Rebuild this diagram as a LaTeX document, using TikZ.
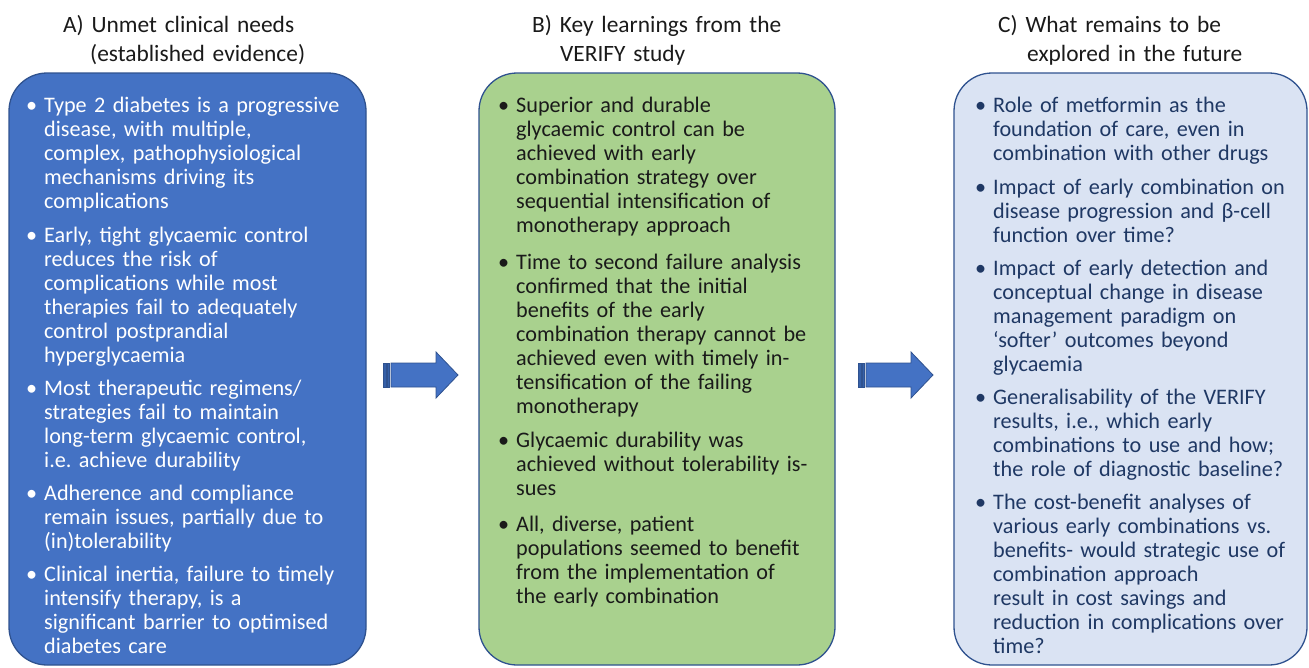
\documentclass[tikz,border=0pt]{standalone}
\usepackage{fontspec}
\setmainfont{Carlito}
\frenchspacing
\definecolor{boxA}{HTML}{4472C4}
\definecolor{boxB}{HTML}{A9D18E}
\definecolor{boxC}{HTML}{DAE3F3}
\definecolor{edge}{HTML}{2F528F}
\definecolor{navy}{HTML}{1F3864}
\definecolor{txt}{HTML}{1A1A1A}
\definecolor{stripe}{HTML}{3560A8}
\tikzset{
  panel/.style={draw=edge, line width=1.3pt, rounded corners=38pt},
  item/.style={anchor=base west, inner sep=0pt, text width=340pt, align=left,
    font=\fontsize{22.2}{24}\selectfont},
  ttl/.style={anchor=base west, inner sep=0pt, text width=320pt, align=left,
    font=\fontsize{23.4}{29}\selectfont, text=txt},
  barrow/.style={fill=boxA, draw=edge, line width=0.8pt},
  bstripe/.style={fill=stripe, draw=edge, line width=0.6pt}
}
\newcommand{\bul}{\llap{\textbullet\hspace{7pt}}}
\begin{document}
\begin{tikzpicture}[x=1pt, y=-1pt]
\useasboundingbox (0,0) rectangle (1309,667);

% titles
\node[ttl] (tA) at (63,32) {A) Unmet clinical needs\\\hspace*{27pt}(established evidence)};
\node[ttl] (tB) at (532,32) {B) Key learnings from the\\\hspace*{28pt}VERIFY study};
\node[ttl] (tC) at (998,32) {C) What remains to be\\\hspace*{29pt}explored in the future};

% panels
\draw[panel, fill=boxA] (9,73) rectangle (366,665);
\coordinate (pA) at (366,375);
\draw[panel, fill=boxB] (479,73) rectangle (835,665);
\coordinate (pB) at (479,375);
\coordinate (pB2) at (835,375);
\draw[panel, fill=boxC] (954,73) rectangle (1307,665);
\coordinate (pC) at (954,375);

% panel A
\begin{scope}[every node/.append style={text=white}]
\node[item] (a1) at (44,112) {\bul Type 2 diabetes is a progressive\\disease, with multiple,\\complex, pathophysiological\\mechanisms driving its\\complications};
\node[item] (a2) at (44,242) {\bul Early, tight glycaemic control\\reduces the risk of\\complications while most\\therapies fail to adequately\\control postprandial\\hyperglycaemia};
\node[item] (a3) at (44,395) {\bul Most therapeutic regimens/\\strategies fail to maintain\\long-term glycaemic control,\\i.e. achieve durability};
\node[item] (a4) at (44,500) {\bul Adherence and compliance\\remain issues, partially due to\\(in)tolerability};
\node[item] (a5) at (44,581) {\bul Clinical inertia, failure to timely\\intensify therapy, is a\\significant barrier to optimised\\diabetes care};
\end{scope}

% panel B
\begin{scope}[every node/.append style={text=txt}]
\node[item] (b1) at (516,112) {\bul Superior and durable\\glycaemic control can be\\achieved with early\\combination strategy over\\sequential intensification of\\monotherapy approach};
\node[item] (b2) at (516,269) {\bul Time to second failure analysis\\confirmed that the initial\\benefits of the early\\combination therapy cannot be\\achieved even with timely in-\\tensification of the failing\\monotherapy};
\node[item] (b3) at (516,447) {\bul Glycaemic durability was\\achieved without tolerability is-\\sues};
\node[item] (b4) at (516,531) {\bul All, diverse, patient\\populations seemed to benefit\\from the implementation of\\the early combination};
\end{scope}

% panel C
\begin{scope}[every node/.append style={text=navy}]
\node[item] (c1) at (993,112) {\bul Role of metformin as the\\foundation of care, even in\\combination with other drugs};
\node[item] (c2) at (993,194) {\bul Impact of early combination on\\disease progression and β-cell\\function over time?};
\node[item] (c3) at (993,275) {\bul Impact of early detection and\\conceptual change in disease\\management paradigm on\\‘softer’ outcomes beyond\\glycaemia};
\node[item] (c4) at (993,404) {\bul Generalisability of the VERIFY\\results, i.e., which early\\combinations to use and how;\\the role of diagnostic baseline?};
\node[item] (c5) at (993,509) {\bul The cost-benefit analyses of\\various early combinations vs.\\benefits- would strategic use of\\combination approach\\result in cost savings and\\reduction in complications over\\time?};
\end{scope}

% block arrows
\foreach \dx/\nm in {0/arA, 475/arB}{
  \begin{scope}[xshift=\dx]
    \draw[bstripe] (383,363) rectangle (386,387);
    \draw[bstripe] (387.5,363) rectangle (389.5,387);
    \draw[barrow] (391,363) -- (436,363) -- (436,352) -- (458,375) -- (436,398)
      -- (436,387) -- (391,387) -- cycle;
    \coordinate (\nm) at (458,375);
  \end{scope}
}
\end{tikzpicture}
\end{document}
